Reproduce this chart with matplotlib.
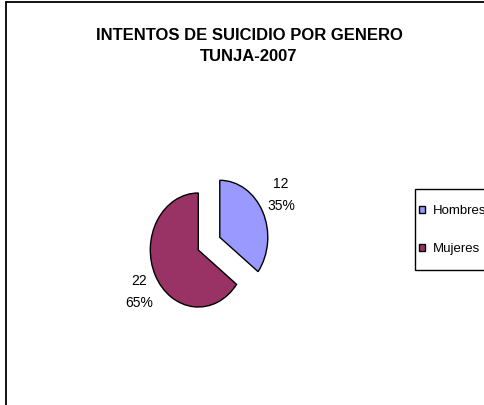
import matplotlib
matplotlib.use("Agg")
import matplotlib.pyplot as plt
from matplotlib.patches import Rectangle

plt.rcParams["font.family"] = ["Liberation Sans", "DejaVu Sans"]

# ── data ──────────────────────────────────────────────────────────────────────
TITLE = "INTENTOS DE SUICIDIO POR GENERO\nTUNJA-2007"
categories = ["Hombres", "Mujeres"]
values = [12, 22]
colors = ["#9999FF", "#993366"]
explode = [0.5, 0.0]

W, H = 485, 405
fig = plt.figure(figsize=(W / 100, H / 100), dpi=100)

# axes spanning the whole figure; pie centre placed in pixel terms
cx, cy = 198.3, 250.0      # pie centre (px, y from top)
rx, ry = 48.0, 57.0        # radii in px (chart is slightly squashed)
ax = fig.add_axes([0, 0, 1, 1])

total = sum(values)
labels = [f"{v}\n{round(100 * v / total)}%" for v in values]

wedges, texts = ax.pie(
    values, labels=labels, colors=colors, explode=explode,
    startangle=90, counterclock=False, labeldistance=1.47,
    wedgeprops=dict(edgecolor="black", linewidth=1.0),
    textprops=dict(fontsize=10, linespacing=1.7),
)
# small nudges (px) so the labels sit where the original ones do
nudges = [(-2, 5), (4, -5)]
for t, (dx, dy) in zip(texts, nudges):
    x, y = t.get_position()
    t.set_position((x + dx / rx, y + dy / ry))
    t.set_ha("center")
    t.set_va("center")

ax.set_aspect("auto")
ax.set_xlim(-cx / rx, (W - cx) / rx)
ax.set_ylim(-(H - cy) / ry, cy / ry)
ax.axis("off")

# title
fig.text(249 / W, 1 - 46 / H, TITLE, ha="center", va="center",
         fontsize=12, fontweight="bold", linespacing=1.45)

# legend (frame drawn separately, it runs off the right edge)
leg = fig.legend(
    wedges, categories, loc="center left",
    bbox_to_anchor=(419.5 / W, 1 - 230 / H),
    frameon=False, fontsize=9.5, borderpad=0, borderaxespad=0,
    handlelength=0.45, handleheight=0.45, handletextpad=0.55,
    labelspacing=2.0,
)
fig.patches.append(Rectangle((415 / W, 1 - 270 / H), 0.3, 81 / H,
                             transform=fig.transFigure, fill=False,
                             edgecolor="black", linewidth=1.0))

# outer chart border
fig.patches.append(Rectangle((6 / W, -0.2), 1.2, 1.2 - 2 / H,
                             transform=fig.transFigure, fill=False,
                             edgecolor="black", linewidth=1.3))

fig.savefig("out.png", dpi=100)
